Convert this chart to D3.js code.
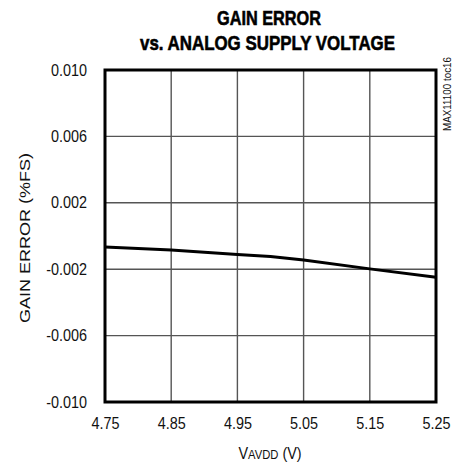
<!DOCTYPE html>
<html lang="en">
<head>
<meta charset="UTF-8">
<title>Gain Error vs. Analog Supply Voltage</title>
<script src="https://cdn.jsdelivr.net/npm/d3@7/dist/d3.min.js"></script>
<style>
  body { margin: 0; background: #fff; }
  text { font-family: "Liberation Sans", Arial, sans-serif; fill: #111; }
</style>
</head>
<body>
<div id="chart"></div>
<script>
// data
var voltage = [4.75, 4.85, 4.95, 5.00, 5.05, 5.15, 5.25];
var gainError = [-0.00067, -0.00085, -0.00111, -0.00124, -0.00145, -0.00198, -0.00248];

var xTicks = [4.75, 4.85, 4.95, 5.05, 5.15, 5.25];
var yTicks = [0.010, 0.006, 0.002, -0.002, -0.006, -0.010];

var W = 457, H = 466;
var pLeft = 105, pRight = 436, pTop = 70, pBottom = 402;
var narrow = 0.9; // fake a condensed face

var svg = d3.select("#chart").append("svg")
    .attr("width", W)
    .attr("height", H);

var x = d3.scaleLinear().domain([4.75, 5.25]).range([pLeft, pRight]);
var y = d3.scaleLinear().domain([-0.010, 0.010]).range([pBottom, pTop]);

// grid
svg.append("g").selectAll("line")
    .data(xTicks.slice(1, -1))
    .enter().append("line")
    .attr("x1", function(d) { return x(d); })
    .attr("x2", function(d) { return x(d); })
    .attr("y1", pTop).attr("y2", pBottom)
    .attr("stroke", "#555").attr("stroke-width", 1.4);

svg.append("g").selectAll("line")
    .data(yTicks.slice(1, -1))
    .enter().append("line")
    .attr("x1", pLeft).attr("x2", pRight)
    .attr("y1", function(d) { return y(d); })
    .attr("y2", function(d) { return y(d); })
    .attr("stroke", "#555").attr("stroke-width", 1.4);

// axes - only the labels, frame is drawn separately
var xAxis = svg.append("g")
    .attr("transform", "translate(0," + pBottom + ")")
    .call(d3.axisBottom(x).tickValues(xTicks).tickSize(0).tickPadding(16).tickFormat(d3.format(".2f")));
xAxis.select(".domain").remove();
xAxis.attr("font-family", null).attr("font-size", null);
xAxis.selectAll("text")
    .attr("font-size", 16)
    .attr("transform", "scale(" + narrow + ",1)");

var yAxis = svg.append("g")
    .attr("transform", "translate(" + pLeft + ",0)")
    .call(d3.axisLeft(y).tickValues(yTicks).tickSize(0).tickFormat(function(d) {
        return d3.format(".3f")(d).replace("\u2212", "-");
    }));
yAxis.select(".domain").remove();
yAxis.attr("font-family", null).attr("font-size", null);
yAxis.selectAll("text")
    .attr("font-size", 16)
    .attr("x", -18 / narrow)
    .attr("transform", "scale(" + narrow + ",1)");

// data line
var line = d3.line()
    .x(function(d, i) { return x(voltage[i]); })
    .y(function(d) { return y(d); });

svg.append("path")
    .datum(gainError)
    .attr("d", line)
    .attr("fill", "none")
    .attr("stroke", "#000")
    .attr("stroke-width", 3)
    .attr("stroke-linejoin", "round");

// frame
svg.append("rect")
    .attr("x", pLeft).attr("y", pTop)
    .attr("width", pRight - pLeft).attr("height", pBottom - pTop)
    .attr("fill", "none").attr("stroke", "#000").attr("stroke-width", 3);

// title, stroked a little to look like the heavy condensed face
svg.append("text")
    .attr("x", 269).attr("y", 25)
    .attr("text-anchor", "middle")
    .attr("font-size", 21).attr("font-weight", "bold")
    .attr("stroke", "#000").attr("stroke-width", 0.6).style("fill", "#000")
    .attr("textLength", 104).attr("lengthAdjust", "spacingAndGlyphs")
    .text("GAIN ERROR");
svg.append("text")
    .attr("x", 267.5).attr("y", 50)
    .attr("text-anchor", "middle")
    .attr("font-size", 21).attr("font-weight", "bold")
    .attr("stroke", "#000").attr("stroke-width", 0.6).style("fill", "#000")
    .attr("textLength", 255).attr("lengthAdjust", "spacingAndGlyphs")
    .text("vs. ANALOG SUPPLY VOLTAGE");

// axis titles
svg.append("text")
    .attr("transform", "translate(30,238) rotate(-90)")
    .attr("text-anchor", "middle")
    .attr("font-size", 15)
    .attr("textLength", 170).attr("lengthAdjust", "spacingAndGlyphs")
    .text("GAIN ERROR (%FS)");

var xl = svg.append("g")
    .attr("transform", "translate(270,459) scale(" + narrow + ",1)")
    .append("text")
    .attr("text-anchor", "middle")
    .attr("font-size", 16);
xl.append("tspan").text("V");
xl.append("tspan").attr("font-size", 12.5).text("AVDD");
xl.append("tspan").text(" (V)");

// figure tag
svg.append("text")
    .attr("transform", "translate(451,57) rotate(-90)")
    .attr("text-anchor", "end")
    .attr("font-size", 10)
    .attr("textLength", 74).attr("lengthAdjust", "spacingAndGlyphs")
    .text("MAX11100 toc16");
</script>
</body>
</html>
